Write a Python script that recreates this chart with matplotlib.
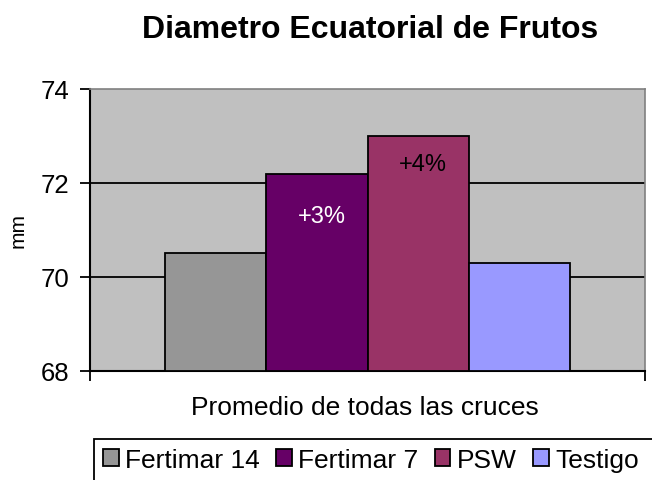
import matplotlib.pyplot as plt
from matplotlib.patches import Rectangle

plt.rcParams['font.family'] = ['Liberation Sans', 'DejaVu Sans']

series = ['Fertimar 14', 'Fertimar 7', 'PSW', 'Testigo']
values = [70.5, 72.2, 73.0, 70.3]
colors = ['#969696', '#660066', '#993366', '#9999FF']
notes = ['', '+3%', '+4%', '']
note_vals = [None, 71.3, 72.4, None]
note_colors = ['black', 'white', 'black', 'black']
yticks = [68, 70, 72, 74]

W, H = 652, 481
fig = plt.figure(figsize=(W / 100, H / 100), dpi=100)
ax = fig.add_axes([90 / W, 1 - 372 / H, 555 / W, 282 / H])
ax.set_facecolor('#C0C0C0')

for i, (name, v, c) in enumerate(zip(series, values, colors)):
    ax.bar(i, v - 68, bottom=68, width=1.0, color=c, edgecolor='black',
           linewidth=1.3, label=name, zorder=3)
    if notes[i]:
        ax.text(i + 0.05, note_vals[i], notes[i], color=note_colors[i],
                fontsize=17, ha='center', va='center', zorder=4)

ax.set_ylim(68, 74)
ax.set_xlim(-1.24, 4.24)
ax.set_yticks(yticks)
ax.set_yticklabels([str(t) for t in yticks], fontsize=18.5)
ax.set_xticks([-1.24, 4.24])
ax.set_xticklabels(['', ''])
ax.tick_params(axis='both', direction='out', length=7, width=1.3,
               colors='black', pad=8)
for t in [70, 72]:
    ax.axhline(t, color='black', linewidth=1.3, zorder=1)

ax.spines['left'].set_linewidth(1.5)
ax.spines['bottom'].set_linewidth(1.5)
ax.spines['top'].set_color('#808080')
ax.spines['right'].set_color('#808080')
ax.spines['top'].set_linewidth(1.2)
ax.spines['right'].set_linewidth(1.2)

fig.text(18 / W, 1 - 231 / H, 'mm', fontsize=15, rotation=90,
         ha='center', va='center')
fig.text(365 / W, 1 - 415 / H, 'Promedio de todas las cruces', fontsize=19,
         ha='center', va='baseline')
fig.text(370 / W, 1 - 38 / H, 'Diametro Ecuatorial de Frutos', fontsize=23,
         fontweight='bold', ha='center', va='baseline')

# legend box, runs off the right and bottom edges as in the original
fig.patches.append(Rectangle((94 / W, -0.2), 700 / W, 1.2 - 440 / H,
                             transform=fig.transFigure, facecolor='white',
                             edgecolor='black', linewidth=1.3))
handles, labels = ax.get_legend_handles_labels()
fig.legend(handles, labels, loc='center left', ncol=4, frameon=False,
           bbox_to_anchor=(103 / W, 1 - 461 / H), fontsize=19,
           handlelength=0.6, handleheight=0.6, handletextpad=0.25,
           columnspacing=0.6, borderpad=0, borderaxespad=0)

fig.savefig('out.png', dpi=100)
